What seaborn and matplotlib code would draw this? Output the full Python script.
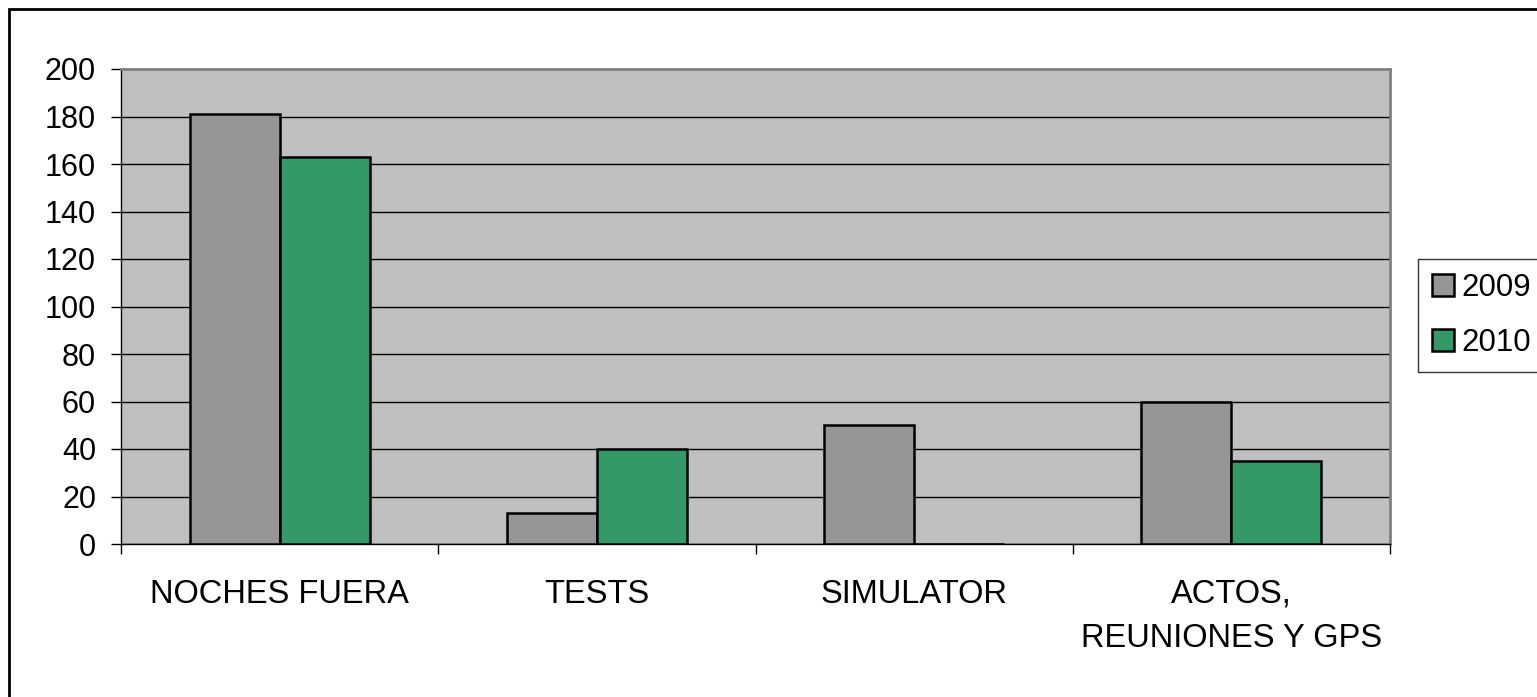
import pandas as pd
import numpy as np
import matplotlib.pyplot as plt
import seaborn as sns
from matplotlib.patches import Rectangle

# data
categories = ["NOCHES FUERA", "TESTS", "SIMULATOR", "ACTOS,\nREUNIONES Y GPS"]
years = ["2009", "2010"]
values_2009 = [181, 13, 50, 60]
values_2010 = [163, 40, 0, 35]
colors = {"2009": "#969696", "2010": "#339966"}

df = pd.DataFrame({
    "cat": categories * 2,
    "year": ["2009"] * 4 + ["2010"] * 4,
    "val": values_2009 + values_2010,
})

sns.set_style("white")
plt.rcParams["font.family"] = ["Liberation Sans", "DejaVu Sans"]
plt.rcParams["text.color"] = "black"
plt.rcParams["xtick.color"] = "black"
plt.rcParams["ytick.color"] = "black"

fig = plt.figure(figsize=(15.37, 6.97), dpi=100)
ax = fig.add_axes([121 / 1537, 1 - 544 / 697, (1390 - 121) / 1537, (544 - 69) / 697])

sns.barplot(data=df, x="cat", y="val", hue="year", order=categories, hue_order=years,
            palette=colors, width=0.567, edgecolor="black", linewidth=1.8,
            saturation=1, ax=ax, legend=False, zorder=3)

ax.set_facecolor("#C0C0C0")
ax.set_ylim(0, 200)
ax.set_xlim(-0.5, 3.5)
ax.set_yticks(np.arange(0, 201, 20))
ax.grid(axis="y", color="black", linewidth=1, zorder=1)
ax.set_axisbelow(True)
ax.set_xlabel("")
ax.set_ylabel("")

# ticks
ax.tick_params(axis="y", length=7, width=1, color="black", labelsize=22, pad=11, direction="out", left=True)
ax.tick_params(axis="x", which="major", length=0, labelsize=23.5, pad=25)
ax.set_xticks(np.arange(-0.5, 3.6, 1), minor=True)
ax.tick_params(axis="x", which="minor", length=7, width=1, color="black", direction="out", bottom=True)
for lbl in ax.get_xticklabels():
    lbl.set_linespacing(1.55)

for s in ["left", "bottom"]:
    ax.spines[s].set_color("black")
    ax.spines[s].set_linewidth(1)
for s in ["top", "right"]:
    ax.spines[s].set_color("#808080")
    ax.spines[s].set_linewidth(2)

# legend
handles = [Rectangle((0, 0), 1, 1, facecolor=colors[y], edgecolor="black", linewidth=1.8) for y in years]
leg = fig.legend(handles, years, loc="upper left", bbox_to_anchor=(1418 / 1537, 1 - 259 / 697),
                 borderaxespad=0, fontsize=22.5, frameon=True, fancybox=False,
                 handlelength=0.7, handleheight=0.7, handletextpad=0.25,
                 labelspacing=0.8, borderpad=0.45)
leg.get_frame().set_edgecolor("black")
leg.get_frame().set_linewidth(1)

# outer chart border
fig.patches.append(Rectangle((9 / 1537, -0.1), 1.2, 1.1 - 9 / 697, transform=fig.transFigure,
                             fill=False, edgecolor="black", linewidth=2, zorder=0))

plt.savefig("out.png", dpi=100)
